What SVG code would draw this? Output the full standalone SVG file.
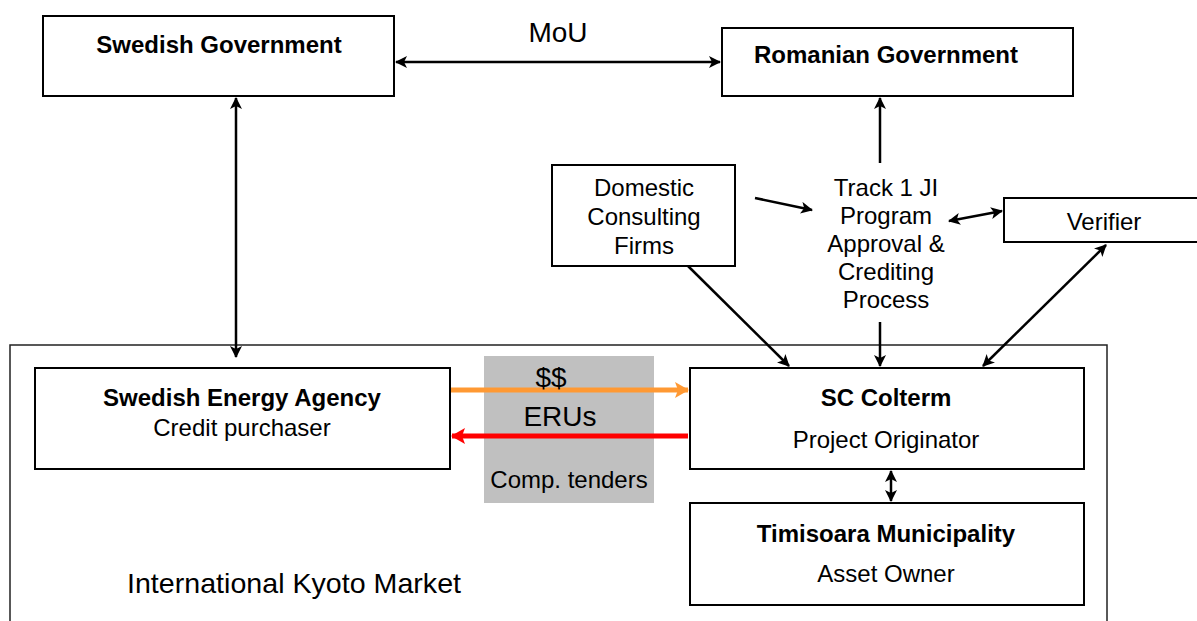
<svg xmlns="http://www.w3.org/2000/svg" width="1197" height="621" viewBox="0 0 1197 621">
<style>
.box{fill:#fff;stroke:#000;stroke-width:2}
.t{font-family:"Liberation Sans",Arial,sans-serif;font-size:24px;fill:#000;text-anchor:middle}
.b{font-weight:bold}
.c{fill:none;stroke:#000;stroke-width:2.5}
</style>
<defs>
<marker id="ah" viewBox="0 0 12 12" refX="11" refY="6" markerWidth="12" markerHeight="12" markerUnits="userSpaceOnUse" orient="auto-start-reverse">
<path d="M0,0 L12,6 L0,12 L3,6 z" fill="#000"/>
</marker>
<marker id="ao" viewBox="0 0 14 16" refX="13" refY="8" markerWidth="14" markerHeight="16" markerUnits="userSpaceOnUse" orient="auto">
<path d="M0,0 L14,8 L0,16 L3,8 z" fill="#ff9933"/>
</marker>
<marker id="ar" viewBox="0 0 14 16" refX="13" refY="8" markerWidth="14" markerHeight="16" markerUnits="userSpaceOnUse" orient="auto">
<path d="M0,0 L14,8 L0,16 L3,8 z" fill="#ff0000"/>
</marker>
</defs>
<rect width="1197" height="621" fill="#fff"/>

<g id="kyoto-market">
<rect x="10" y="345" width="1097" height="290" fill="none" stroke="#222" stroke-width="1.5"/>
<text class="t" x="294" y="593" style="font-size:28px" textLength="334" lengthAdjust="spacingAndGlyphs">International Kyoto Market</text>
</g>

<g id="comp-tenders">
<rect x="484" y="356" width="170" height="147" fill="#c0c0c0"/>
<text class="t" x="569" y="488">Comp. tenders</text>
</g>

<g id="swedish-government">
<rect class="box" x="43" y="16" width="351" height="80"/>
<text class="t b" x="219" y="53">Swedish Government</text>
</g>

<g id="romanian-government">
<rect class="box" x="722" y="28" width="351" height="68"/>
<text class="t b" x="886" y="63">Romanian Government</text>
</g>

<g id="domestic-consulting">
<rect class="box" x="552" y="165" width="183" height="101"/>
<text class="t" x="644" y="196">Domestic</text>
<text class="t" x="644" y="225">Consulting</text>
<text class="t" x="644" y="254">Firms</text>
</g>

<g id="track1">
<text class="t" x="886" y="196">Track 1 JI</text>
<text class="t" x="886" y="224">Program</text>
<text class="t" x="886" y="252">Approval &amp;</text>
<text class="t" x="886" y="280">Crediting</text>
<text class="t" x="886" y="308">Process</text>
</g>

<g id="verifier">
<rect class="box" x="1004" y="198" width="200" height="44"/>
<text class="t" x="1104" y="230">Verifier</text>
</g>

<g id="swedish-energy-agency">
<rect class="box" x="35" y="368" width="415" height="101"/>
<text class="t b" x="242" y="406">Swedish Energy Agency</text>
<text class="t" x="242" y="436">Credit purchaser</text>
</g>

<g id="sc-colterm">
<rect class="box" x="690" y="368" width="394" height="101"/>
<text class="t b" x="886" y="406">SC Colterm</text>
<text class="t" x="886" y="448">Project Originator</text>
</g>

<g id="timisoara">
<rect class="box" x="690" y="503" width="394" height="102"/>
<text class="t b" x="886" y="542">Timisoara Municipality</text>
<text class="t" x="886" y="582">Asset Owner</text>
</g>

<g id="connectors">
<line class="c" x1="396" y1="62" x2="720" y2="62" marker-start="url(#ah)" marker-end="url(#ah)"/>
<text class="t" x="558" y="42" style="font-size:28px">MoU</text>
<line class="c" x1="236" y1="98" x2="236" y2="357" marker-start="url(#ah)" marker-end="url(#ah)"/>
<line class="c" x1="880" y1="163" x2="880" y2="98" marker-end="url(#ah)"/>
<line class="c" x1="755" y1="198" x2="812" y2="210" marker-end="url(#ah)"/>
<line class="c" x1="949" y1="221" x2="1002" y2="211" marker-start="url(#ah)" marker-end="url(#ah)"/>
<line class="c" x1="688" y1="266" x2="789" y2="366" marker-end="url(#ah)"/>
<line class="c" x1="880" y1="322" x2="880" y2="366" marker-end="url(#ah)"/>
<line class="c" x1="1106" y1="245" x2="983" y2="366" marker-start="url(#ah)" marker-end="url(#ah)"/>
<line class="c" x1="891" y1="471" x2="891" y2="501" marker-start="url(#ah)" marker-end="url(#ah)"/>
<line x1="451" y1="390" x2="688" y2="390" stroke="#ff9933" stroke-width="5" marker-end="url(#ao)"/>
<line x1="688" y1="436" x2="452" y2="436" stroke="#ff0000" stroke-width="5" marker-end="url(#ar)"/>
<text class="t" x="551" y="387" style="font-size:28px">$$</text>
<text class="t" x="560" y="426" style="font-size:28px">ERUs</text>
</g>
</svg>
